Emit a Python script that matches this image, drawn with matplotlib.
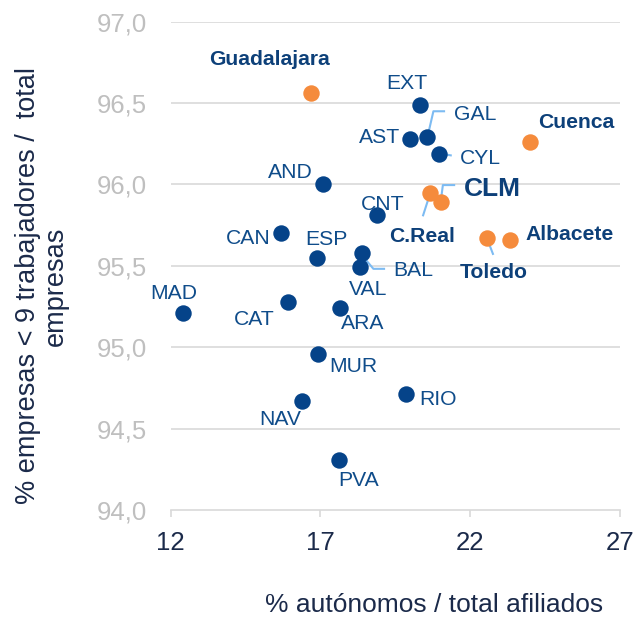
import matplotlib
matplotlib.use("Agg")
import matplotlib.pyplot as plt

plt.rcParams['font.family'] = ['Liberation Sans', 'DejaVu Sans']

# ---- data ----
regions = ["EXT", "GAL", "AST", "CYL", "AND", "CNT", "CAN", "ESP", "BAL", "VAL",
           "MAD", "CAT", "ARA", "MUR", "NAV", "RIO", "PVA"]
regions_x = [20.32, 20.57, 19.99, 20.97, 17.08, 18.88, 15.67, 16.90, 18.38, 18.32,
             12.42, 15.91, 17.65, 16.91, 16.39, 19.86, 17.63]
regions_y = [96.49, 96.29, 96.28, 96.19, 96.00, 95.81, 95.70, 95.55, 95.58, 95.49,
             95.21, 95.28, 95.24, 94.96, 94.67, 94.71, 94.31]

provinces = ["Guadalajara", "Cuenca", "CLM", "C.Real", "Toledo", "Albacete"]
provinces_x = [16.67, 24.00, 21.02, 20.66, 22.55, 23.33]
provinces_y = [96.56, 96.26, 95.89, 95.95, 95.67, 95.66]

x_ticks = [12, 17, 22, 27]
y_ticks = [94.0, 94.5, 95.0, 95.5, 96.0, 96.5, 97.0]
y_tick_labels = ["94,0", "94,5", "95,0", "95,5", "96,0", "96,5", "97,0"]

x_label = "% autónomos / total afiliados"
y_label = "% empresas < 9 trabajadores /  total\nempresas"

# ---- layout (label offsets in pixels from the dot, y up) ----
label_offsets = {
    "EXT": (-13.3, 23.3), "GAL": (47.7, 25), "AST": (-30, 3.3), "CYL": (41.4, -2.7),
    "AND": (-32.7, 14), "CNT": (6, 13), "CAN": (-32.4, -2.7), "ESP": (9.4, 20),
    "BAL": (51, -16), "VAL": (8.3, -20), "MAD": (-10, 21.6), "CAT": (-33.7, -15.4),
    "ARA": (22.7, -13.4), "MUR": (35.6, -11), "NAV": (-22.3, -16.6), "RIO": (32.3, -2.7),
    "PVA": (19.7, -19),
    "Guadalajara": (-40.7, 36), "Cuenca": (46, 21.7), "CLM": (51, 16.3),
    "C.Real": (-8.3, -41.7), "Toledo": (7.3, -32.4), "Albacete": (59.3, 7.6),
}
leaders = {
    "GAL": [(0, 0), (6, 26), (17.7, 26)],
    "CYL": [(1, 0), (12.4, -2)],
    "CLM": [(0, 2), (2, 17.3), (14.3, 17.3)],
    "C.Real": [(0, -1), (-7.3, -23.7)],
    "BAL": [(1, -3.4), (11.6, -16), (23.3, -16)],
    "Toledo": [(0.6, -1), (6.6, -16.7)],
}

navy = '#054389'
orange = '#F58B3C'
label_col = '#0F4C8A'
bold_col = '#0D4079'
leader_col = '#7DBBF2'
grid_col = '#D9D9D9'
dark = '#1B2A4A'

W, H = 636, 617
fig = plt.figure(figsize=(W / 100, H / 100), dpi=100)
ax = fig.add_axes([170.7 / W, 1 - 510 / H, (620 - 170.7) / W, (510 - 21.7) / H])
ax.set_xlim(12, 27)
ax.set_ylim(94, 97)

for s in ['left', 'right', 'top']:
    ax.spines[s].set_visible(False)
ax.spines['bottom'].set_color(grid_col)
ax.spines['bottom'].set_linewidth(1.2)
ax.set_xticks(x_ticks)
ax.set_xticklabels([str(t) for t in x_ticks])
ax.set_yticks(y_ticks)
ax.set_yticklabels(y_tick_labels)
ax.tick_params(axis='x', colors=grid_col, length=5, width=1.2, labelsize=18.5,
               labelcolor=dark, pad=10)
ax.tick_params(axis='y', length=0, labelsize=18.5, labelcolor='#BFBFBF', pad=17)
for yt in y_ticks[1:]:
    ax.axhline(yt, color=grid_col, lw=1.2, zorder=0)

ax.scatter(regions_x, regions_y, s=140, color=navy, zorder=3, linewidths=0)
ax.scatter(provinces_x, provinces_y, s=140, color=orange, zorder=3, linewidths=0)

inv = ax.transData.inverted()

def draw_leader(x, y, offs):
    px, py = ax.transData.transform((x, y))
    pts = [inv.transform((px + dx, py + dy)) for dx, dy in offs]
    ax.plot([p[0] for p in pts], [p[1] for p in pts], color=leader_col, lw=1.5,
            zorder=2, solid_capstyle='butt')

def put_label(name, x, y, bold, size, color):
    dx, dy = label_offsets[name]
    cap = 0.716 * size / 0.72
    ax.annotate(name, (x, y), xytext=(dx, dy - cap / 2), textcoords='offset pixels',
                ha='center', va='baseline', fontsize=size, color=color,
                fontweight='bold' if bold else 'normal', zorder=4,
                annotation_clip=False)

for name, x, y in zip(regions, regions_x, regions_y):
    if name in leaders:
        draw_leader(x, y, leaders[name])
    put_label(name, x, y, False, 15.2, label_col)

for name, x, y in zip(provinces, provinces_x, provinces_y):
    if name in leaders:
        draw_leader(x, y, leaders[name])
    size = 19 if name == "CLM" else 15.2
    put_label(name, x, y, True, size, bold_col)

fig.text(434 / W, 1 - 605 / H, x_label, ha='center', va='center', fontsize=19, color=dark)
fig.text(42 / W, 1 - 286 / H, y_label, ha='center', va='center', fontsize=19.5,
         color=dark, rotation=90, multialignment='center', linespacing=1.05)

fig.savefig("out.png", dpi=100)
